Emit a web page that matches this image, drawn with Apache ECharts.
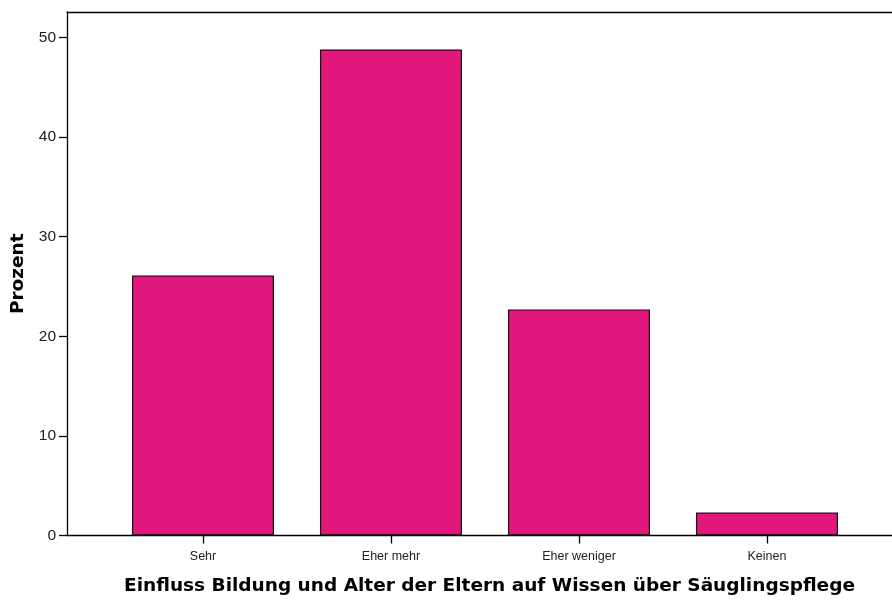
<!DOCTYPE html>
<html>
<head>
<meta charset="utf-8">
<script src="https://cdn.jsdelivr.net/npm/echarts@6/dist/echarts.min.js"></script>
<style>
  html, body { margin: 0; padding: 0; background: #fff; }
  #chart { width: 892px; height: 603px; }
</style>
</head>
<body>
<div id="chart"></div>
<script>
// Einfluss Bildung und Alter der Eltern – Prozent
const categories = ['Sehr', 'Eher mehr', 'Eher weniger', 'Keinen']
const percents = [26.1, 48.8, 22.7, 2.3]
const yTicks = [0, 10, 20, 30, 40, 50]

const xTicks = categories.map((_, i) => i)
// SPSS leaves extra room left of the first category, the right side is cut off
const xMin = -0.7234
const xMax = 3.665
const font = '"Liberation Sans", Arial, sans-serif'
const boldFont = '"DejaVu Sans", "Liberation Sans", sans-serif'

const chart = echarts.init(document.getElementById('chart'))

chart.setOption({
  animation: false,
  grid: {
    left: 67,
    top: 12,
    right: 0,
    bottom: 67.5,
    containLabel: false,
    outerBoundsMode: 'none',
  },
  xAxis: [
    {
      type: 'value',
      position: 'bottom',
      min: xMin,
      max: xMax,
      splitLine: { show: false },
      axisLine: { show: true, onZero: false, lineStyle: { color: '#000', width: 1.3 } },
      axisTick: {
        show: true,
        customValues: xTicks,
        length: 8,
        lineStyle: { color: '#000', width: 1.3 },
      },
      axisLabel: {
        customValues: xTicks,
        formatter: (v) => categories[v] || '',
        color: '#222',
        fontFamily: font,
        fontSize: 12.5,
        margin: 15,
      },
      name: 'Einfluss Bildung und Alter der Eltern auf Wissen über Säuglingspflege',
      nameLocation: 'middle',
      nameGap: 41,
      nameTextStyle: {
        color: '#000',
        fontFamily: boldFont,
        fontWeight: 'bold',
        fontSize: 18.5,
        // the real axis runs past the right edge, so the title sits a bit right
        padding: [0, 0, 0, 20],
      },
    },
    {
      // top frame line
      type: 'value',
      position: 'top',
      min: xMin,
      max: xMax,
      splitLine: { show: false },
      axisLine: { show: true, onZero: false, lineStyle: { color: '#000', width: 1.3 } },
      axisTick: { show: false },
      axisLabel: { show: false },
    },
  ],
  yAxis: {
    type: 'value',
    min: 0,
    max: 52.56,
    splitLine: { show: false },
    axisLine: { show: true, onZero: false, lineStyle: { color: '#000', width: 1.3 } },
    axisTick: {
      show: true,
      customValues: yTicks,
      length: 8,
      lineStyle: { color: '#000', width: 1.3 },
    },
    axisLabel: {
      customValues: yTicks,
      color: '#222',
      fontFamily: font,
      fontSize: 15.5,
      margin: 11,
    },
    name: 'Prozent',
    nameLocation: 'middle',
    nameGap: 38,
    nameTextStyle: {
      color: '#000',
      fontFamily: boldFont,
      fontWeight: 'bold',
      fontSize: 18.5,
    },
  },
  series: [
    {
      type: 'bar',
      xAxisIndex: 0,
      barWidth: 142,
      data: percents.map((p, i) => [i, p]),
      itemStyle: {
        color: '#E2177B',
        borderColor: '#111',
        borderWidth: 1.2,
      },
    },
  ],
})
</script>
</body>
</html>
